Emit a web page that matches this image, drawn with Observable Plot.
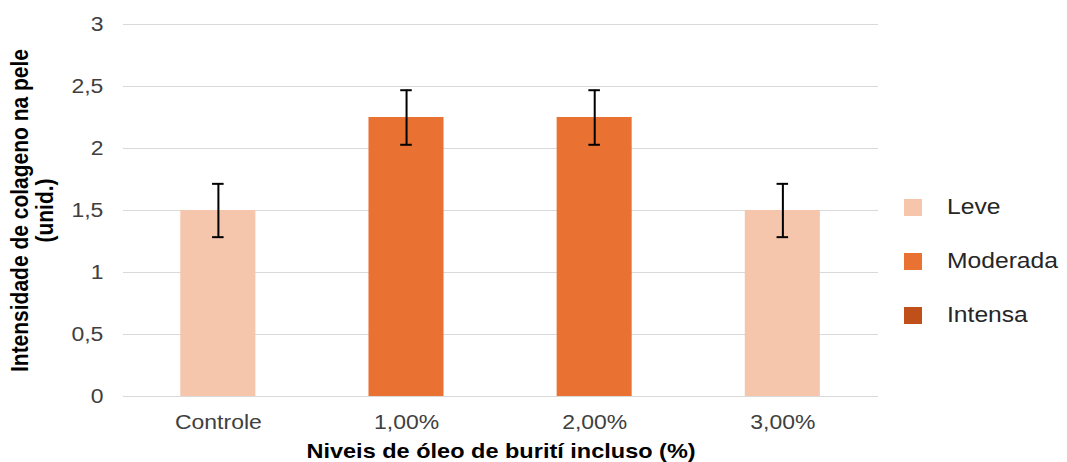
<!DOCTYPE html>
<html><head><meta charset="utf-8">
<script src="https://cdn.jsdelivr.net/npm/d3@7"></script>
<script src="https://cdn.jsdelivr.net/npm/@observablehq/plot@0.6"></script>
<style>
body{margin:0;background:#fff;}
#wrap{position:relative;width:1067px;height:462px;font-family:"Liberation Sans",Arial,sans-serif;}
#legend{position:absolute;left:904px;top:198px;}
.item{display:flex;align-items:center;height:18px;margin-bottom:36px;}
.sw{width:18px;height:17px;flex:none;}
.lab{margin-left:25px;font-size:22px;color:#262626;transform:scaleX(1.12);transform-origin:left center;white-space:nowrap;line-height:18px;}
</style></head><body><div id="wrap"></div>
<script>
const categories = ["Controle", "1,00%", "2,00%", "3,00%"];
const values = [1.5, 2.25, 2.25, 1.5];
const errors = [0.215, 0.22, 0.22, 0.215];
const levels = ["Leve", "Moderada", "Moderada", "Leve"];
const legendLabels = ["Leve", "Moderada", "Intensa"];
const legendColors = ["#F5C6AB", "#E97132", "#C0501A"];
const yTicks = [0, 0.5, 1, 1.5, 2, 2.5, 3];
const yTitle = "Intensidade de colageno na pele\n(unid.)";
const xTitle = "Niveis de óleo de burití incluso (%)";

const S = 1.12, W = 1067, H = 462;
const IW = W / S;
const ml = 123 / S, mr = (W - 878) / S;
const step = (IW - ml - mr) / 4;
const bw = step * 0.4;
const capW = 12 / S;
const inset = (bw - capW) / 2;

const data = categories.map((c, i) => ({cat: c, v: values[i], lo: values[i] - errors[i], hi: values[i] + errors[i], level: levels[i]}));
const fmt = d => String(d).replace(".", ",");

const chart = Plot.plot({
  width: IW, height: H,
  marginLeft: ml, marginRight: mr, marginTop: 24, marginBottom: 66,
  style: {fontFamily: "'Liberation Sans', Arial, sans-serif", fontSize: "20.5px", color: "#404040", background: "#fff"},
  x: {domain: categories, paddingInner: 0.6, paddingOuter: 0.3, label: null},
  y: {domain: [0, 3], label: null},
  color: {domain: legendLabels, range: legendColors},
  marks: [
    Plot.gridY(yTicks, {stroke: "#D9D9D9", strokeOpacity: 1, strokeWidth: 1}),
    Plot.axisY(yTicks, {tickSize: 0, tickPadding: 18, tickFormat: fmt, fill: "#404040", label: null}),
    Plot.axisX({tickSize: 0, tickPadding: 18, fill: "#404040", label: null}),
    Plot.barY(data, {x: "cat", y: "v", fill: "level"}),
    Plot.ruleX(data, {x: "cat", y1: "lo", y2: "hi", stroke: "#000", strokeWidth: 1.8}),
    Plot.tickY(data, {x: "cat", y: "lo", insetLeft: inset, insetRight: inset, stroke: "#000", strokeWidth: 2}),
    Plot.tickY(data, {x: "cat", y: "hi", insetLeft: inset, insetRight: inset, stroke: "#000", strokeWidth: 2}),
    Plot.text([yTitle], {frameAnchor: "left", textAnchor: "middle", lineAnchor: "middle", rotate: -90, dx: -81, lineHeight: 1.05, fontWeight: "bold", fontSize: 21, fill: "#000"}),
    Plot.text([xTitle], {frameAnchor: "bottom", textAnchor: "middle", lineAnchor: "middle", dy: 55, fontWeight: "bold", fontSize: 21, fill: "#000"})
  ]
});
chart.setAttribute("width", W);
chart.setAttribute("height", H);
chart.setAttribute("preserveAspectRatio", "none");
chart.style.width = W + "px";
chart.style.height = H + "px";
chart.style.maxWidth = "none";
const wrap = document.getElementById("wrap");
wrap.appendChild(chart);

const legend = document.createElement("div");
legend.id = "legend";
legendLabels.forEach((l, i) => {
  const item = document.createElement("div");
  item.className = "item";
  const sw = document.createElement("div");
  sw.className = "sw";
  sw.style.background = legendColors[i];
  const lab = document.createElement("span");
  lab.className = "lab";
  lab.textContent = l;
  item.appendChild(sw);
  item.appendChild(lab);
  legend.appendChild(item);
});
wrap.appendChild(legend);
</script>
</body></html>
